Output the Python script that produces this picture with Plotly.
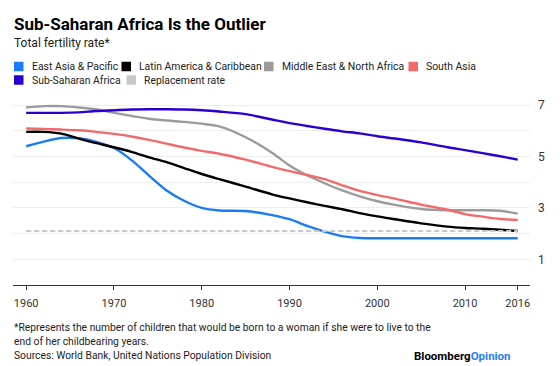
import plotly.graph_objects as go

years = [1960, 1962, 1964, 1966, 1968, 1970, 1972, 1974, 1976, 1978, 1980, 1982, 1985,
         1988, 1990, 1992, 1994, 1996, 1998, 2000, 2002, 2005, 2008, 2010, 2012, 2014, 2016]

east_asia = [5.40, 5.58, 5.72, 5.71, 5.57, 5.33, 4.86, 4.26, 3.68, 3.28, 3.00, 2.90, 2.88,
             2.72, 2.56, 2.30, 2.08, 1.90, 1.83, 1.82, 1.82, 1.82, 1.82, 1.82, 1.82, 1.82, 1.82]
latin_america = [5.96, 5.96, 5.89, 5.70, 5.52, 5.36, 5.18, 4.97, 4.78, 4.55, 4.32, 4.12, 3.83,
                 3.53, 3.37, 3.22, 3.08, 2.95, 2.80, 2.67, 2.56, 2.40, 2.27, 2.22, 2.19, 2.15, 2.10]
mena = [6.91, 6.96, 6.96, 6.91, 6.83, 6.70, 6.58, 6.47, 6.40, 6.35, 6.28, 6.17, 5.75,
        5.15, 4.65, 4.27, 3.96, 3.68, 3.45, 3.26, 3.12, 2.96, 2.91, 2.91, 2.91, 2.89, 2.78]
south_asia = [6.09, 6.07, 6.05, 6.02, 5.96, 5.88, 5.78, 5.65, 5.50, 5.35, 5.22, 5.11, 4.88,
              4.60, 4.43, 4.28, 4.12, 3.88, 3.66, 3.50, 3.36, 3.13, 2.93, 2.76, 2.66, 2.57, 2.53]
ssa = [6.70, 6.70, 6.70, 6.72, 6.77, 6.80, 6.83, 6.84, 6.84, 6.83, 6.80, 6.75, 6.65,
       6.44, 6.30, 6.19, 6.08, 5.98, 5.90, 5.79, 5.70, 5.55, 5.36, 5.25, 5.13, 5.01, 4.88]
replacement_years = [1960, 2016]
replacement = [2.1, 2.1]

series_names = ["East Asia & Pacific", "Latin America & Caribbean",
                "Middle East & North Africa", "South Asia", "Sub-Saharan Africa",
                "Replacement rate"]
series_colors = ["#1a7cf5", "#000000", "#9b9b9b", "#f26b6b", "#2a00d2", "#c8c8c8"]

x_tickvals = [1960, 1970, 1980, 1990, 2000, 2010, 2016]
y_tickvals = [1, 3, 5, 7]

title_text = "Sub-Saharan Africa Is the Outlier"
subtitle_text = "Total fertility rate*"
footnote_lines = ["*Represents the number of children that would be born to a woman if she were to live to the",
                  "end of her childbearing years.",
                  "Sources: World Bank, United Nations Population Division"]

# The page body has an 8px margin, so the figure is drawn 8px smaller and offset.
OFF = 8
PAGE_W, PAGE_H = 560, 366
W, H = PAGE_W - OFF, PAGE_H - OFF
# plot area in page pixels
PL, PR, PT, PB = 13, 530, 100, 285
ML, MR, MT, MB = PL - OFF, PAGE_W - PR, PT - OFF, PAGE_H - PB
PW, PH = PR - PL, PB - PT
FONT = "Roboto, Liberation Sans, Arial, sans-serif"


def fx(p):
    return (p - PL) / PW


def fy(p):
    return (PB - p) / PH


fig = go.Figure()
data_series = [east_asia, latin_america, mena, south_asia, ssa]
for name, vals, col in zip(series_names[:5], data_series, series_colors[:5]):
    fig.add_trace(go.Scatter(x=years, y=vals, mode="lines", name=name,
                             line=dict(color=col, width=2.4, shape="spline", smoothing=0.8),
                             showlegend=False, hoverinfo="skip"))
fig.add_trace(go.Scatter(x=replacement_years, y=replacement, mode="lines",
                         name=series_names[5],
                         line=dict(color=series_colors[5], width=2, dash="5px,3px"),
                         showlegend=False, hoverinfo="skip"))

annotations = []
shapes = []
annotations.append(dict(text="<b>" + title_text + "</b>", x=fx(12), y=fy(23.5), xref="paper", yref="paper",
                        xanchor="left", yanchor="middle", showarrow=False,
                        font=dict(family=FONT, size=17, color="#000")))
annotations.append(dict(text=subtitle_text, x=fx(12), y=fy(42.5), xref="paper", yref="paper",
                        xanchor="left", yanchor="middle", showarrow=False,
                        font=dict(family=FONT, size=12, color="#222")))

legend_pos = [(14, 66.5), (121.5, 66.5), (264, 66.5), (408.5, 66.5), (14, 80), (126.5, 80)]
for (lx, ly), name, col in zip(legend_pos, series_names, series_colors):
    shapes.append(dict(type="rect", xref="paper", yref="paper",
                       x0=fx(lx), x1=fx(lx + 9.5), y0=fy(ly - 4.75), y1=fy(ly + 4.75),
                       fillcolor=col, line=dict(width=0)))
    annotations.append(dict(text=name, x=fx(lx + 15.5), y=fy(ly), xref="paper", yref="paper",
                            xanchor="left", yanchor="middle", showarrow=False,
                            font=dict(family=FONT, size=10.4, color="#222")))

for i, line in enumerate(footnote_lines):
    annotations.append(dict(text=line, x=fx(12), y=fy(327.5 + i * 14), xref="paper", yref="paper",
                            xanchor="left", yanchor="middle", showarrow=False,
                            font=dict(family=FONT, size=10.3, color="#222")))
annotations.append(dict(text="<b>Bloomberg<span style='color:#2a7cf6'>Opinion</span></b>",
                        x=fx(513), y=fy(356), xref="paper", yref="paper",
                        xanchor="right", yanchor="middle", showarrow=False,
                        font=dict(family=FONT, size=11.5, color="#000")))

fig.update_layout(
    width=W, height=H,
    margin=dict(l=ML, r=MR, t=MT, b=MB, pad=0),
    paper_bgcolor="white", plot_bgcolor="white",
    showlegend=False,
    annotations=annotations, shapes=shapes,
    xaxis=dict(range=[1958.5, 2017.4], tickvals=x_tickvals, showgrid=False, zeroline=False,
               showline=True, linecolor="#333", linewidth=1, ticks="outside", ticklen=4,
               tickcolor="#333", ticklabelstandoff=4,
               tickfont=dict(family=FONT, size=11, color="#333"), fixedrange=True),
    yaxis=dict(range=[0, 7.2], side="right", tickvals=y_tickvals, showgrid=True,
               gridcolor="#eeeeee", gridwidth=1, zeroline=False, showline=False, ticks="",
               ticklabelstandoff=7,
               minor=dict(tickvals=[2, 4, 6], showgrid=True, gridcolor="#eeeeee", gridwidth=1),
               tickfont=dict(family=FONT, size=12, color="#333"), fixedrange=True),
)

fig.write_html("out.html", config={"displayModeBar": False})
